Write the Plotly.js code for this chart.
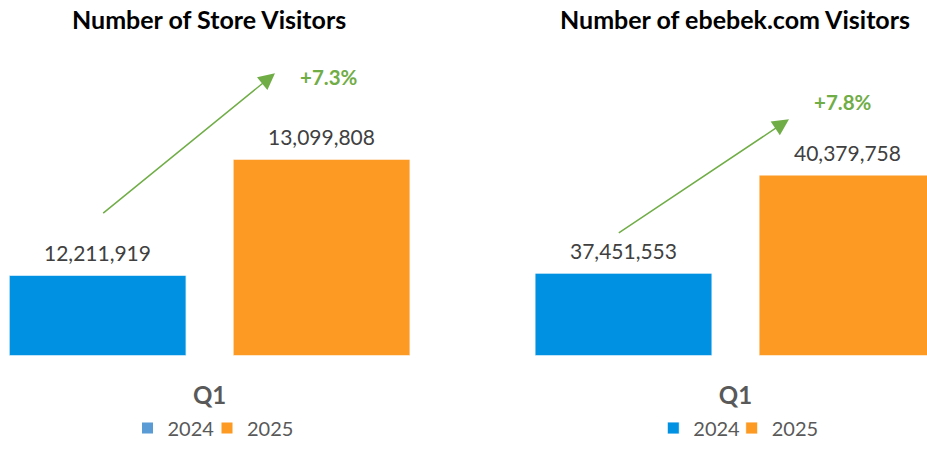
<!DOCTYPE html>
<html>
<head>
<meta charset="utf-8">
<script src="https://cdn.plot.ly/plotly-3.0.1.min.js"></script>
<style>html,body{margin:0;padding:0;background:#fff;}#chart{width:927px;height:457px;}</style>
</head>
<body>
<div id="chart"></div>
<script>
// ---- data ----
const categories = ['Q1'];
const years = ['2024', '2025'];
const storeVisitors2024 = [12211919];
const storeVisitors2025 = [13099808];
const webVisitors2024 = [37451553];
const webVisitors2025 = [40379758];
const growthLabels = ['+7.3%', '+7.8%'];
const chartTitles = ['Number of Store Visitors', 'Number of ebebek.com Visitors'];

// ---- styling ----
const W = 927, H = 457;
const BLUE = '#0091E2', ORANGE = '#FC9A24', GREEN = '#70AD47', LEGBLUE = '#5B9BD5';
const FONT = 'Lato, "Open Sans", sans-serif';
const fx = p => p / W;
const fy = p => 1 - p / H;

const yTopPx = 40, yBotPx = 355.3;
const plotH = yBotPx - yTopPx;
const leftMin = 11.6e6, leftPxPerUnit = 130.7e-6;
const rightMin = 35e6, rightPxPerUnit = 33.5e-6;

const barLine = {color: 'rgba(255,255,255,0.85)', width: 1};

const traces = [
  {type: 'bar', x: categories, y: storeVisitors2024, name: years[0], xaxis: 'x', yaxis: 'y',
   marker: {color: BLUE, line: barLine}, showlegend: false, hoverinfo: 'y'},
  {type: 'bar', x: categories, y: storeVisitors2025, name: years[1], xaxis: 'x', yaxis: 'y',
   marker: {color: ORANGE, line: barLine}, showlegend: false, hoverinfo: 'y'},
  // legend entries for the left chart
  {type: 'scatter', mode: 'markers', x: [null], y: [null], name: years[0], xaxis: 'x', yaxis: 'y',
   marker: {symbol: 'square', size: 11, color: LEGBLUE}, legend: 'legend'},
  {type: 'scatter', mode: 'markers', x: [null], y: [null], name: years[1], xaxis: 'x', yaxis: 'y',
   marker: {symbol: 'square', size: 11, color: ORANGE}, legend: 'legend2'},
  {type: 'bar', x: categories, y: webVisitors2024, name: years[0], xaxis: 'x2', yaxis: 'y2',
   marker: {color: BLUE, line: barLine}, legend: 'legend3', hoverinfo: 'y'},
  {type: 'bar', x: categories, y: webVisitors2025, name: years[1], xaxis: 'x2', yaxis: 'y2',
   marker: {color: ORANGE, line: barLine}, legend: 'legend4', hoverinfo: 'y'}
];

const fmt = v => v.toLocaleString('en-US');
const annotations = [];
// value labels
[[storeVisitors2024, -0.25, 'x', 'y'], [storeVisitors2025, 0.25, 'x', 'y'],
 [webVisitors2024, -0.25, 'x2', 'y2'], [webVisitors2025, 0.25, 'x2', 'y2']].forEach(([arr, xp, xr, yr]) => {
  annotations.push({xref: xr, yref: yr, x: xp, y: arr[0], text: fmt(arr[0]), showarrow: false,
    yanchor: 'middle', xanchor: 'center', yshift: 23,
    font: {family: FONT, size: 21, color: '#404040'}});
});
// titles
annotations.push({xref: 'paper', yref: 'paper', x: fx(209), y: fy(19), text: chartTitles[0], showarrow: false,
  xanchor: 'center', yanchor: 'middle', font: {family: FONT, size: 25, color: '#000', weight: 'bold'}});
annotations.push({xref: 'paper', yref: 'paper', x: fx(735), y: fy(19), text: chartTitles[1], showarrow: false,
  xanchor: 'center', yanchor: 'middle', font: {family: FONT, size: 25, color: '#000', weight: 'bold'}});
// growth arrows
annotations.push({xref: 'paper', yref: 'paper', x: fx(275), y: fy(73.3), ax: 101.7 - 275, ay: 214.3 - 73.3,
  text: '', showarrow: true, arrowhead: 2, arrowsize: 2.2, arrowwidth: 1.5, arrowcolor: GREEN});
annotations.push({xref: 'paper', yref: 'paper', x: fx(789), y: fy(119.3), ax: 617.3 - 789, ay: 234 - 119.3,
  text: '', showarrow: true, arrowhead: 2, arrowsize: 2.2, arrowwidth: 1.5, arrowcolor: GREEN});
// growth labels
annotations.push({xref: 'paper', yref: 'paper', x: fx(329), y: fy(77), text: growthLabels[0], showarrow: false,
  xanchor: 'center', yanchor: 'middle', font: {family: FONT, size: 20.5, color: GREEN, weight: 'bold'}});
annotations.push({xref: 'paper', yref: 'paper', x: fx(843), y: fy(102), text: growthLabels[1], showarrow: false,
  xanchor: 'center', yanchor: 'middle', font: {family: FONT, size: 20.5, color: GREEN, weight: 'bold'}});

const xCommon = {type: 'category', showgrid: false, zeroline: false, showline: false, ticks: '',
  tickfont: {family: FONT, size: 24, color: '#595959', weight: 'bold'}, ticklabelstandoff: 24, fixedrange: true};
const yCommon = {visible: false, showgrid: false, zeroline: false, fixedrange: true};

const legendCommon = {orientation: 'h', xanchor: 'left', yanchor: 'middle', y: fy(428),
  font: {family: FONT, size: 20, color: '#595959'}, bgcolor: 'rgba(0,0,0,0)', itemclick: false, itemdoubleclick: false};

const layout = {
  width: W, height: H,
  margin: {l: 0, r: 0, t: 0, b: 0},
  paper_bgcolor: '#fff', plot_bgcolor: '#fff',
  barmode: 'group', bargap: 0, bargroupgap: 0.21,
  xaxis: Object.assign({}, xCommon, {domain: [0, fx(419.2)], range: [-0.468, 0.468]}),
  yaxis: Object.assign({}, yCommon, {domain: [fy(yBotPx), fy(yTopPx)], range: [leftMin, leftMin + plotH / leftPxPerUnit]}),
  xaxis2: Object.assign({}, xCommon, {domain: [fx(500), 1], range: [(500 - 735.5) / 448, (927 - 735.5) / 448], anchor: 'y2'}),
  yaxis2: Object.assign({}, yCommon, {domain: [fy(yBotPx), fy(yTopPx)], range: [rightMin, rightMin + plotH / rightPxPerUnit], anchor: 'x2'}),
  legend: Object.assign({}, legendCommon, {x: fx(127.5)}),
  legend2: Object.assign({}, legendCommon, {x: fx(207)}),
  legend3: Object.assign({}, legendCommon, {x: fx(653.3)}),
  legend4: Object.assign({}, legendCommon, {x: fx(731.7)}),
  annotations: annotations,
  showlegend: true
};

Plotly.newPlot('chart', traces, layout, {displayModeBar: false, staticPlot: true});
</script>
</body>
</html>
